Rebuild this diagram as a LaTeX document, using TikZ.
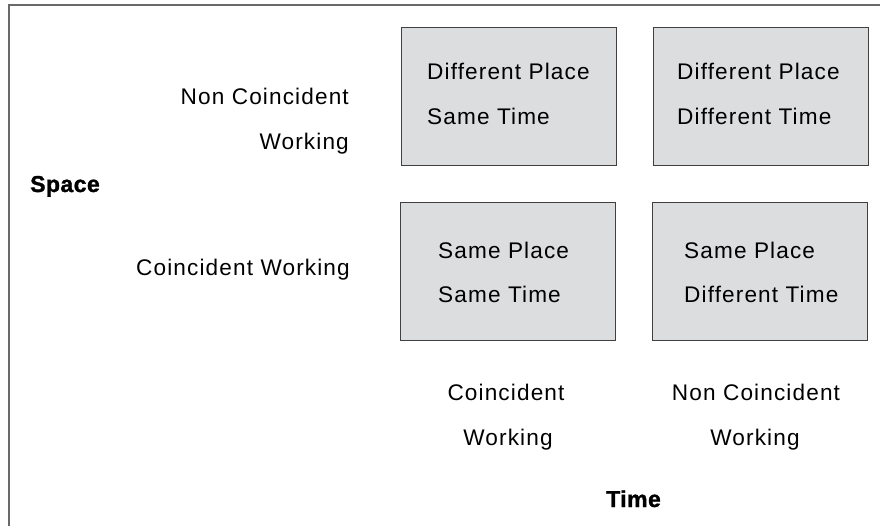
\documentclass[tikz,border=0pt]{standalone}
\usepackage{fontspec}
\setmainfont{Liberation Sans}[LetterSpace=5]
\newfontfamily\headfont{Liberation Sans}[UprightFont=* Bold,FakeBold=1.4,LetterSpace=2]
\definecolor{boxfill}{RGB}{220,221,223}
\definecolor{boxline}{RGB}{64,64,64}
\definecolor{frameline}{RGB}{105,105,105}
\tikzset{
  cell/.style={draw=boxline,fill=boxfill,line width=1.4pt,anchor=north west,
    inner sep=0pt,minimum width=215pt,minimum height=138pt},
  lbl/.style={inner sep=0pt,font=\fontsize{22.6}{26}\selectfont},
  head/.style={inner sep=0pt,anchor=base west,font=\headfont\fontsize{23}{27}\selectfont}
}
\begin{document}
\begin{tikzpicture}[x=1pt,y=-1pt]
    \useasboundingbox (0,0) rectangle (880,526);
    \draw[frameline,line width=2pt] (8.5,526) -- (8.5,5.5) -- (880,5.5);
    % the four cells
    \node[cell] (dpst) at (401,27) {};
    \node[cell] (dpdt) at (653,27) {};
    \node[cell] (spst) at (400,202) {};
    \node[cell] (spdt) at (652,202) {};
    \node[lbl,anchor=base west] (dpst1) at (427,80) {Different Place};
    \node[lbl,anchor=base west] (dpst2) at (427,125) {Same Time};
    \node[lbl,anchor=base west] (dpdt1) at (677,80) {Different Place};
    \node[lbl,anchor=base west] (dpdt2) at (677,125) {Different Time};
    \node[lbl,anchor=base west] (spst1) at (438,259) {Same Place};
    \node[lbl,anchor=base west] (spst2) at (438,303) {Same Time};
    \node[lbl,anchor=base west] (spdt1) at (684,259) {Same Place};
    \node[lbl,anchor=base west] (spdt2) at (684,303) {Different Time};
    % space axis
    \node[lbl,anchor=base east] (ncw1) at (349,105) {Non Coincident};
    \node[lbl,anchor=base east] (ncw2) at (349,150) {Working};
    \node[lbl,anchor=base east] (cw) at (350,276) {Coincident Working};
    \node[head] (space) at (30,192) {Space};
    % time axis
    \node[lbl,anchor=base] (tcw1) at (506,400) {Coincident};
    \node[lbl,anchor=base] (tcw2) at (508,445) {Working};
    \node[lbl,anchor=base] (tncw1) at (756,400) {Non Coincident};
    \node[lbl,anchor=base] (tncw2) at (755,445) {Working};
    \node[head] (time) at (606,507) {Time};
  \end{tikzpicture}
\end{document}
